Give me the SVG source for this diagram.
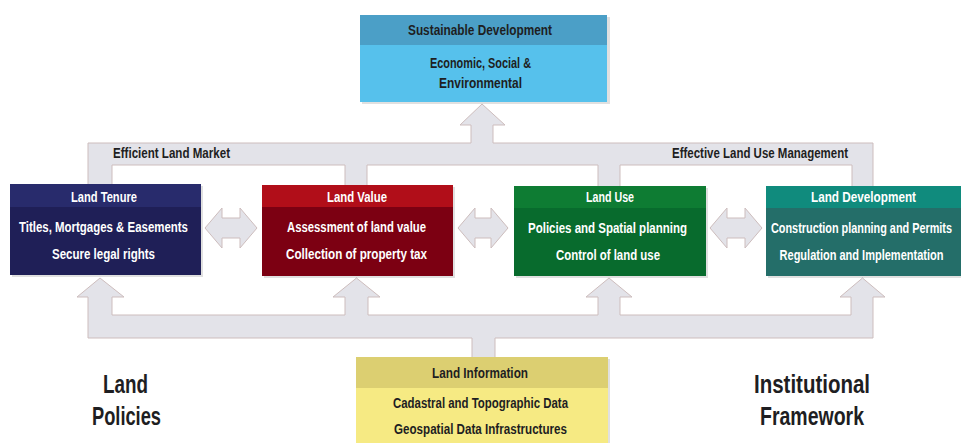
<svg xmlns="http://www.w3.org/2000/svg" width="961" height="443" viewBox="0 0 961 443">
<style>
.conn{fill:#e3e3e9;stroke:#cdbdbd;stroke-width:1}
.t{font-family:"Liberation Sans",Arial,sans-serif;font-weight:bold;text-anchor:middle}
.w{fill:#ffffff;font-size:14.5px}
.d{fill:#1e1e22;font-size:14.5px}
.big{fill:#1e1e22;font-size:25px}
.sh{fill:#000;opacity:0.12}
</style>
<rect width="961" height="443" fill="#ffffff"/>
<g id="connectors">
<path class="conn" d="M88,186 L88,143 L471,143 L471,125 L460,125 L482,104 L505,125 L493,125 L493,143 L873,143 L873,187 L852,187 L852,165 L620,165 L620,187 L598,187 L598,165 L367,165 L367,186 L345,186 L345,165 L112,165 L112,186 Z"/>
<path class="conn" d="M88,338 L88,297 L77,297 L100,278 L124,297 L112,297 L112,315 L345,315 L345,297 L333,297 L356.5,278 L380,297 L368,297 L368,315 L598,315 L598,297 L586,297 L609,278 L632,297 L620,297 L620,315 L851,315 L851,297 L840,297 L862.5,278 L885,297 L873,297 L873,338 L495,338 L495,359 L472,359 L472,338 Z"/>
<path class="conn" d="M205,228 L222,208 L222,218 L240,218 L240,208 L257,228 L240,248 L240,238 L222,238 L222,248 Z"/>
<path class="conn" d="M458,228 L475,208 L475,218 L491,218 L491,208 L508,228 L491,248 L491,238 L475,238 L475,248 Z"/>
<path class="conn" d="M710,228 L727,208 L727,218 L745,218 L745,208 L762,228 L745,248 L745,238 L727,238 L727,248 Z"/>
<text class="t d" x="171.5" y="158" textLength="117" lengthAdjust="spacingAndGlyphs">Efficient Land Market</text>
<text class="t d" x="760" y="158" textLength="176" lengthAdjust="spacingAndGlyphs">Effective Land Use Management</text>
</g>
<g id="sustainable-development">
<rect class="sh" x="362" y="17" width="248" height="87"/>
<rect x="360" y="15" width="247" height="87" fill="#56c1ec"/>
<rect x="360" y="15" width="247" height="30" fill="#4b9fc7"/>
<text class="t d" x="480" y="35" textLength="144" lengthAdjust="spacingAndGlyphs">Sustainable Development</text>
<text class="t d" x="480.5" y="68" textLength="101" lengthAdjust="spacingAndGlyphs">Economic, Social &amp;</text>
<text class="t d" x="480.5" y="88" textLength="83" lengthAdjust="spacingAndGlyphs">Environmental</text>
</g>
<g id="land-tenure">
<rect class="sh" x="12" y="186" width="191" height="91"/>
<rect x="10" y="184" width="191" height="91" fill="#1f1f57"/>
<rect x="10" y="184" width="191" height="23" fill="#282b6c"/>
<text class="t w" x="104" y="202" textLength="66" lengthAdjust="spacingAndGlyphs">Land Tenure</text>
<text class="t w" x="103.5" y="232" textLength="169" lengthAdjust="spacingAndGlyphs">Titles, Mortgages &amp; Easements</text>
<text class="t w" x="103.5" y="259" textLength="103" lengthAdjust="spacingAndGlyphs">Secure legal rights</text>
</g>
<g id="land-value">
<rect class="sh" x="264" y="187" width="191" height="91"/>
<rect x="262" y="185" width="191" height="91" fill="#7c0012"/>
<rect x="262" y="185" width="191" height="22" fill="#b10e19"/>
<text class="t w" x="357" y="202" textLength="60" lengthAdjust="spacingAndGlyphs">Land Value</text>
<text class="t w" x="356.5" y="232" textLength="139" lengthAdjust="spacingAndGlyphs">Assessment of land value</text>
<text class="t w" x="356.5" y="259" textLength="141" lengthAdjust="spacingAndGlyphs">Collection of property tax</text>
</g>
<g id="land-use">
<rect class="sh" x="516" y="188" width="192" height="90"/>
<rect x="514" y="186" width="192" height="90" fill="#086b2d"/>
<rect x="514" y="186" width="192" height="22" fill="#0e7c33"/>
<text class="t w" x="610" y="202" textLength="48" lengthAdjust="spacingAndGlyphs">Land Use</text>
<text class="t w" x="607.5" y="233" textLength="159" lengthAdjust="spacingAndGlyphs">Policies and Spatial planning</text>
<text class="t w" x="608" y="260" textLength="104" lengthAdjust="spacingAndGlyphs">Control of land use</text>
</g>
<g id="land-development">
<rect class="sh" x="768" y="188" width="193" height="90"/>
<rect x="766" y="186" width="195" height="90" fill="#246e69"/>
<rect x="766" y="186" width="195" height="22" fill="#108b7d"/>
<text class="t w" x="863.5" y="202" textLength="105" lengthAdjust="spacingAndGlyphs">Land Development</text>
<text class="t w" transform="translate(861.5,233) scale(0.75,1)" x="0" y="0">Construction planning and Permits</text>
<text class="t w" transform="translate(861.5,260) scale(0.76,1)" x="0" y="0">Regulation and Implementation</text>
</g>
<g id="land-information">
<rect class="sh" x="358" y="359" width="252" height="86"/>
<rect x="356" y="357" width="252" height="86" fill="#f6ea83"/>
<rect x="356" y="357" width="252" height="31" fill="#dccf71"/>
<text class="t d" x="480" y="378" textLength="96" lengthAdjust="spacingAndGlyphs">Land Information</text>
<text class="t d" x="480.5" y="408" textLength="175" lengthAdjust="spacingAndGlyphs">Cadastral and Topographic Data</text>
<text class="t d" x="480.5" y="434" textLength="173" lengthAdjust="spacingAndGlyphs">Geospatial Data Infrastructures</text>
</g>
<g id="land-policies">
<text class="t big" x="125.5" y="393" textLength="45" lengthAdjust="spacingAndGlyphs">Land</text>
<text class="t big" x="126.5" y="425" textLength="69" lengthAdjust="spacingAndGlyphs">Policies</text>
</g>
<g id="institutional-framework">
<text class="t big" x="812" y="393" textLength="116" lengthAdjust="spacingAndGlyphs">Institutional</text>
<text class="t big" x="812" y="425" textLength="104" lengthAdjust="spacingAndGlyphs">Framework</text>
</g>
</svg>
